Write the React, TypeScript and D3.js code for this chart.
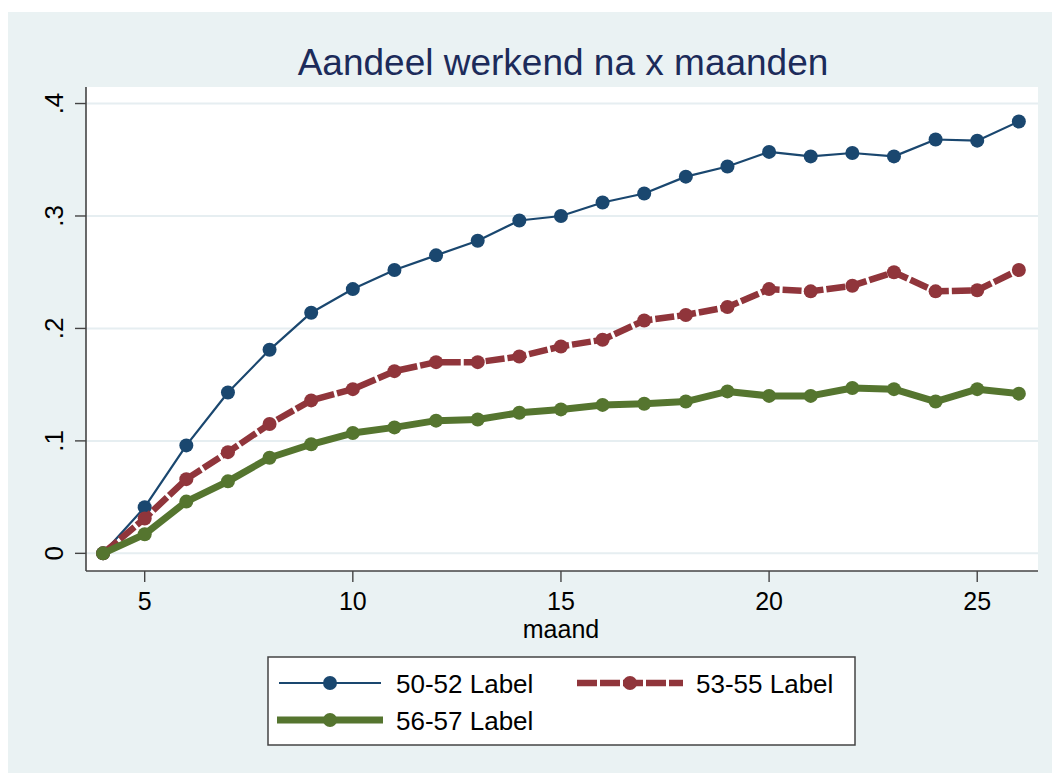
import React from "react";
import * as d3 from "d3";

const months = [4, 5, 6, 7, 8, 9, 10, 11, 12, 13, 14, 15, 16, 17, 18, 19, 20, 21, 22, 23, 24, 25, 26];
const serie5052 = [0, 0.041, 0.096, 0.143, 0.181, 0.214, 0.235, 0.252, 0.265, 0.278, 0.296, 0.300, 0.312, 0.320, 0.335, 0.344, 0.357, 0.353, 0.356, 0.353, 0.368, 0.367, 0.384];
const serie5355 = [0, 0.031, 0.066, 0.090, 0.115, 0.136, 0.146, 0.162, 0.170, 0.170, 0.175, 0.184, 0.190, 0.207, 0.212, 0.219, 0.235, 0.233, 0.238, 0.250, 0.233, 0.234, 0.252];
const serie5657 = [0, 0.017, 0.046, 0.064, 0.085, 0.097, 0.107, 0.112, 0.118, 0.119, 0.125, 0.128, 0.132, 0.133, 0.135, 0.144, 0.140, 0.140, 0.147, 0.146, 0.135, 0.146, 0.142];
const seriesNames = ["50-52 Label", "53-55 Label", "56-57 Label"];
const yTicks = [0, 0.1, 0.2, 0.3, 0.4];
const yTickLabels = ["0", ".1", ".2", ".3", ".4"];
const xTicks = [5, 10, 15, 20, 25];
const title = "Aandeel werkend na x maanden";
const xTitle = "maand";

const W = 1052;
const H = 773;
const plot = { left: 86, right: 1038, top: 87, bottom: 571 };
const FONT = "'Liberation Sans', Arial, Helvetica, sans-serif";

const styles = [
  { color: "#1a476f", width: 2.2, dash: "", r: 7 },
  { color: "#90353b", width: 6.5, dash: "19 3", r: 7 },
  { color: "#55752f", width: 7, dash: "", r: 7 },
];

export default function App() {
  const x = d3.scaleLinear().domain([3.59, 26.46]).range([plot.left, plot.right]);
  const y = d3.scaleLinear().domain([-0.0157, 0.4147]).range([plot.bottom, plot.top]);
  const allSeries = [serie5052, serie5355, serie5657];
  const line = d3
    .line<number>()
    .x((_, i) => x(months[i]))
    .y((d) => y(d));

  const legendRows = [
    { idx: 0, x0: 279, x1: 381, tx: 396, y: 683 },
    { idx: 1, x0: 577, x1: 683, tx: 696, y: 683 },
    { idx: 2, x0: 277, x1: 383, tx: 396, y: 720 },
  ];

  return (
    <svg
      width={W}
      height={H}
      style={{ position: "absolute", left: 0, top: 0, display: "block" }}
      fontFamily={FONT}
    >
      <rect x={0} y={0} width={W} height={H} fill="#ffffff" />
      <rect x={8} y={12} width={W - 8} height={H - 12} fill="#eaf2f3" />
      <rect x={plot.left} y={plot.top} width={plot.right - plot.left} height={plot.bottom - plot.top} fill="#ffffff" />

      {yTicks.map((t) => (
        <line key={"g" + t} x1={plot.left} x2={plot.right} y1={y(t)} y2={y(t)} stroke="#e6eef1" strokeWidth={2} />
      ))}

      <text x={563} y={75} textAnchor="middle" fontSize={37} fill="#1c2b5a">
        {title}
      </text>

      {/* axes */}
      <line x1={plot.left} x2={plot.left} y1={plot.top} y2={plot.bottom} stroke="#444" strokeWidth={1.6} />
      <line x1={plot.left} x2={plot.right} y1={plot.bottom} y2={plot.bottom} stroke="#444" strokeWidth={1.6} />
      {yTicks.map((t, i) => (
        <g key={"yt" + t}>
          <line x1={plot.left - 11} x2={plot.left} y1={y(t)} y2={y(t)} stroke="#444" strokeWidth={1.4} />
          <text transform={`translate(63,${y(t)}) rotate(-90)`} textAnchor="middle" fontSize={26} fill="#000">
            {yTickLabels[i]}
          </text>
        </g>
      ))}
      {xTicks.map((t) => (
        <g key={"xt" + t}>
          <line x1={x(t)} x2={x(t)} y1={plot.bottom} y2={plot.bottom + 11} stroke="#444" strokeWidth={1.4} />
          <text x={x(t)} y={610} textAnchor="middle" fontSize={25} fill="#000">
            {t}
          </text>
        </g>
      ))}
      <text x={561} y={638} textAnchor="middle" fontSize={25} fill="#000">
        {xTitle}
      </text>

      {/* series */}
      {allSeries.map((s, si) => (
        <g key={"s" + si}>
          <path
            d={line(s) || ""}
            fill="none"
            stroke={styles[si].color}
            strokeWidth={styles[si].width}
            strokeDasharray={styles[si].dash || undefined}
            strokeLinejoin="round"
          />
          {s.map((v, i) => (
            <circle key={i} cx={x(months[i])} cy={y(v)} r={styles[si].r} fill={styles[si].color} />
          ))}
        </g>
      ))}

      {/* legend */}
      <rect x={268} y={657} width={587} height={88} fill="#ffffff" stroke="#444" strokeWidth={1.5} />
      {legendRows.map((r) => {
        const st = styles[r.idx];
        return (
          <g key={"l" + r.idx}>
            <line
              x1={r.x0}
              x2={r.x1}
              y1={r.y}
              y2={r.y}
              stroke={st.color}
              strokeWidth={st.width}
              strokeDasharray={st.dash ? "20 3" : undefined}
            />
            <circle cx={(r.x0 + r.x1) / 2} cy={r.y} r={st.r} fill={st.color} />
            <text x={r.tx} y={r.y + 10} fontSize={26} fill="#000">
              {seriesNames[r.idx]}
            </text>
          </g>
        );
      })}
    </svg>
  );
}
